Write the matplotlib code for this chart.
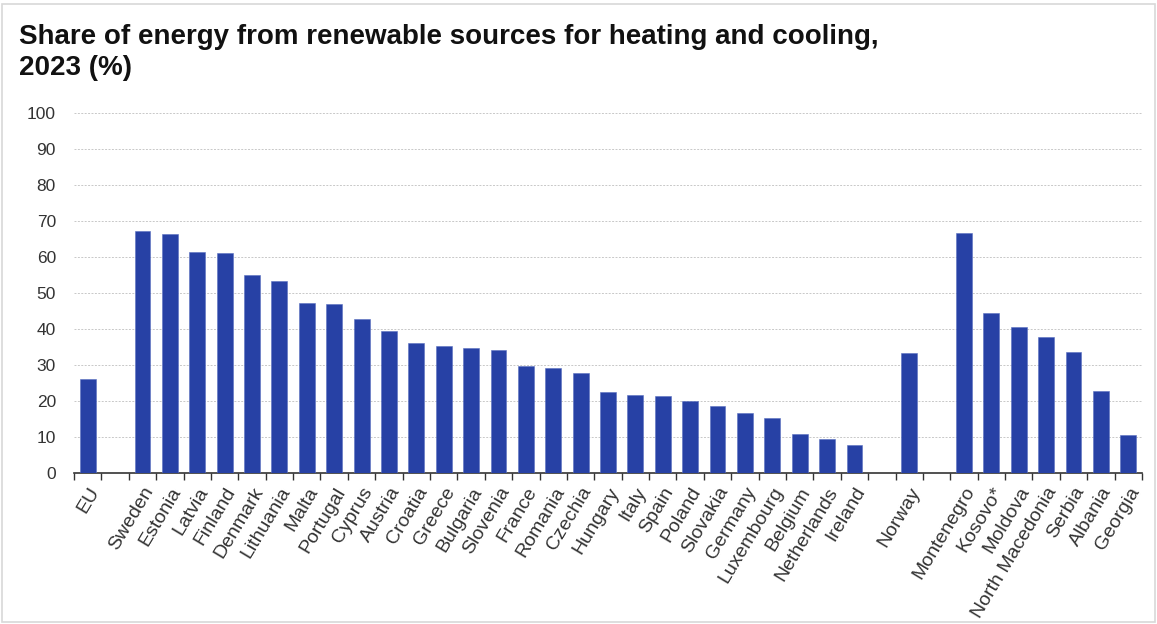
import matplotlib
matplotlib.use("Agg")
import matplotlib.pyplot as plt
import numpy as np

plt.rcParams["font.family"] = ["Liberation Sans", "DejaVu Sans"]

# empty strings are gaps between country groups
countries = ["EU", "",
             "Sweden", "Estonia", "Latvia", "Finland", "Denmark", "Lithuania",
             "Malta", "Portugal", "Cyprus", "Austria", "Croatia", "Greece",
             "Bulgaria", "Slovenia", "France", "Romania", "Czechia", "Hungary",
             "Italy", "Spain", "Poland", "Slovakia", "Germany", "Luxembourg",
             "Belgium", "Netherlands", "Ireland", "",
             "Norway", "",
             "Montenegro", "Kosovo*", "Moldova", "North Macedonia", "Serbia",
             "Albania", "Georgia"]
shares = [26.1, np.nan,
          67.1, 66.5, 61.4, 61.1, 55.0, 53.3,
          47.3, 46.9, 42.9, 39.3, 36.0, 35.4,
          34.8, 34.1, 29.8, 29.1, 27.8, 22.6,
          21.6, 21.3, 20.0, 18.7, 16.8, 15.2,
          10.9, 9.4, 7.7, np.nan,
          33.4, np.nan,
          66.6, 44.4, 40.6, 37.7, 33.7,
          22.8, 10.6]
yticks = list(range(0, 101, 10))

BAR_COLOR = "#2741a5"

fig = plt.figure(figsize=(11.57, 6.24), dpi=100)
ax = fig.add_axes([0.064, 0.242, 0.923, 0.577])

x = np.arange(len(countries))
vals = np.nan_to_num(np.array(shares, dtype=float), nan=0.0)
ax.bar(x, vals, width=0.58, color=BAR_COLOR, edgecolor="#5a6fc0",
       linewidth=0.4, zorder=3)

ax.set_xlim(-0.5, len(countries) - 0.5)
ax.set_ylim(0, 100)
ax.set_yticks(yticks)
ax.set_yticklabels([str(t) for t in yticks], fontsize=12.5, color="#333333")
ax.yaxis.grid(True, color="#c8c8c8", linestyle=(0, (2, 1.5)), linewidth=0.7, zorder=0)
ax.tick_params(axis="y", length=0, pad=13)

# tick marks on slot boundaries, labels at slot centres
ax.set_xticks(np.arange(len(countries) + 1) - 0.5)
ax.set_xticklabels([])
ax.set_xticks(x, minor=True)
ax.set_xticklabels(countries, minor=True, rotation=59, ha="right",
                   rotation_mode="anchor", fontsize=14, color="#333333")
ax.tick_params(axis="x", which="major", length=5, width=1, color="#333333",
               direction="out")
ax.tick_params(axis="x", which="minor", length=0, pad=8)

for s in ["top", "right", "left"]:
    ax.spines[s].set_visible(False)
ax.spines["bottom"].set_color("#333333")
ax.spines["bottom"].set_linewidth(1.2)

fig.text(0.016, 0.962, "Share of energy from renewable sources for heating and cooling,\n2023 (%)",
         fontsize=20, fontweight="bold", ha="left", va="top", linespacing=1.25,
         color="#111111")

fig.patches.append(plt.Rectangle((0.002, 0.003), 0.996, 0.99, transform=fig.transFigure,
                                 fill=False, edgecolor="#d8d8d8", linewidth=1.2))

fig.savefig("out.png", dpi=100)
